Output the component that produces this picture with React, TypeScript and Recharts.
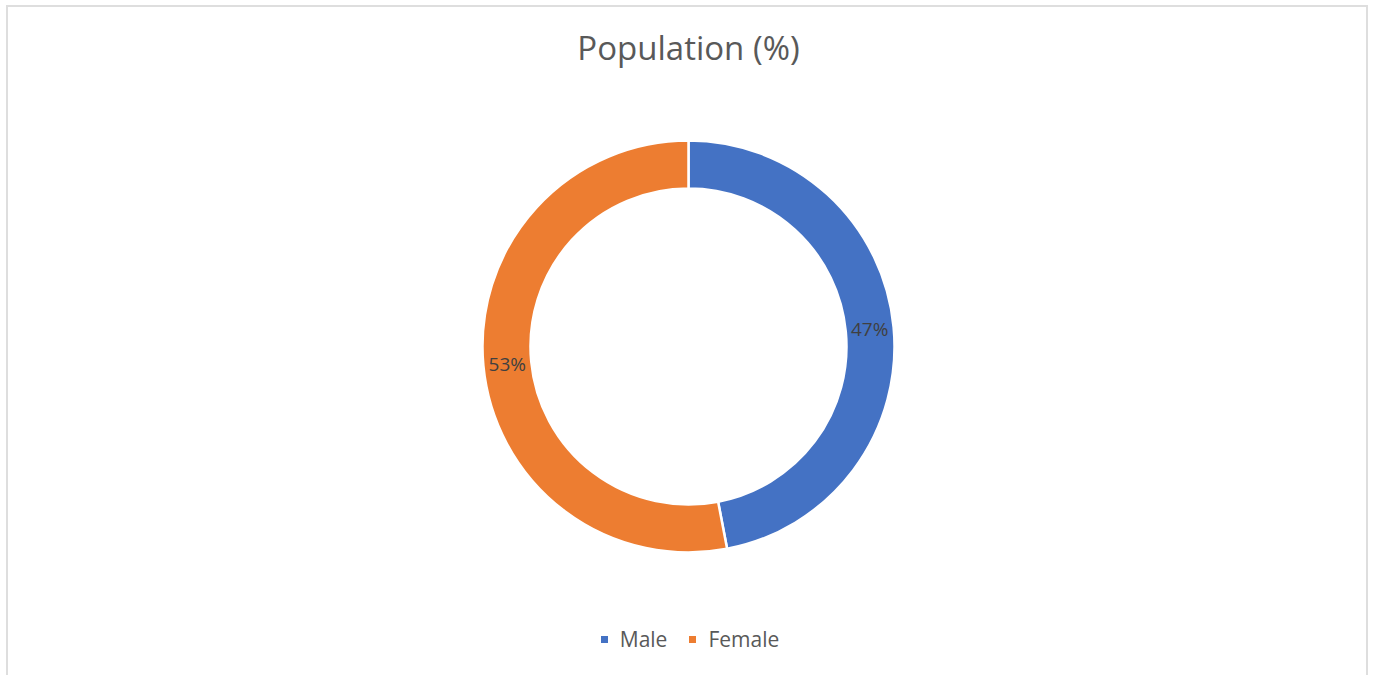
import React from "react";
import { PieChart, Pie, Cell, Legend } from "recharts";

const categories = ["Male", "Female"];
const shares = [47, 53];
const colors = ["#4472c4", "#ed7d31"];

const data = categories.map((name, i) => ({ name, value: shares[i] }));

const RADIAN = Math.PI / 180;
const font = "'Open Sans', 'Liberation Sans', sans-serif";

function renderLabel(props: any) {
  const { cx, cy, midAngle, innerRadius, outerRadius, percent } = props;
  const r = (innerRadius + outerRadius) / 2;
  const x = cx + r * Math.cos(-midAngle * RADIAN);
  const y = cy + r * Math.sin(-midAngle * RADIAN);
  return (
    <text
      x={x}
      y={y}
      fill="#404040"
      fontSize={19}
      fontFamily={font}
      textAnchor="middle"
      dominantBaseline="central"
    >
      {`${Math.round(percent * 100)}%`}
    </text>
  );
}

function LegendContent() {
  return (
    <div style={{ display: "flex", justifyContent: "center", gap: 22, fontFamily: font, fontSize: 21, color: "#595959" }}>
      {categories.map((name, i) => (
        <div key={name} style={{ display: "flex", alignItems: "center" }}>
          <span style={{ width: 7, height: 7, background: colors[i], display: "inline-block", marginRight: 12 }} />
          <span>{name}</span>
        </div>
      ))}
    </div>
  );
}

export default function App() {
  return (
    <div style={{ position: "absolute", left: 0, top: 0, width: 1374, height: 675, background: "#fff", overflow: "hidden" }}>
      <div
        style={{
          position: "absolute",
          left: 6,
          top: 5,
          width: 1362,
          height: 700,
          border: "2px solid #dedede",
          boxSizing: "border-box",
        }}
      />
      <div
        style={{
          position: "absolute",
          left: 0,
          top: 25,
          width: 1377,
          textAlign: "center",
          fontFamily: font,
          fontSize: 33,
          color: "#595959",
        }}
      >
        Population (%)
      </div>
      <div style={{ position: "absolute", left: 0, top: 0 }}>
        <PieChart width={1374} height={675} margin={{ top: 0, right: 0, bottom: 0, left: 0 }}>
          <Pie
            data={data}
            dataKey="value"
            nameKey="name"
            cx={688.5}
            cy={346.5}
            innerRadius={158}
            outerRadius={206}
            startAngle={90}
            endAngle={-270}
            stroke="#ffffff"
            strokeWidth={2.5}
            label={renderLabel}
            labelLine={false}
            isAnimationActive={false}
          >
            {data.map((d, i) => (
              <Cell key={d.name} fill={colors[i]} />
            ))}
          </Pie>
          <Legend
            content={<LegendContent />}
            wrapperStyle={{ position: "absolute", top: 625, left: 0, width: 1380 }}
          />
        </PieChart>
      </div>
    </div>
  );
}
